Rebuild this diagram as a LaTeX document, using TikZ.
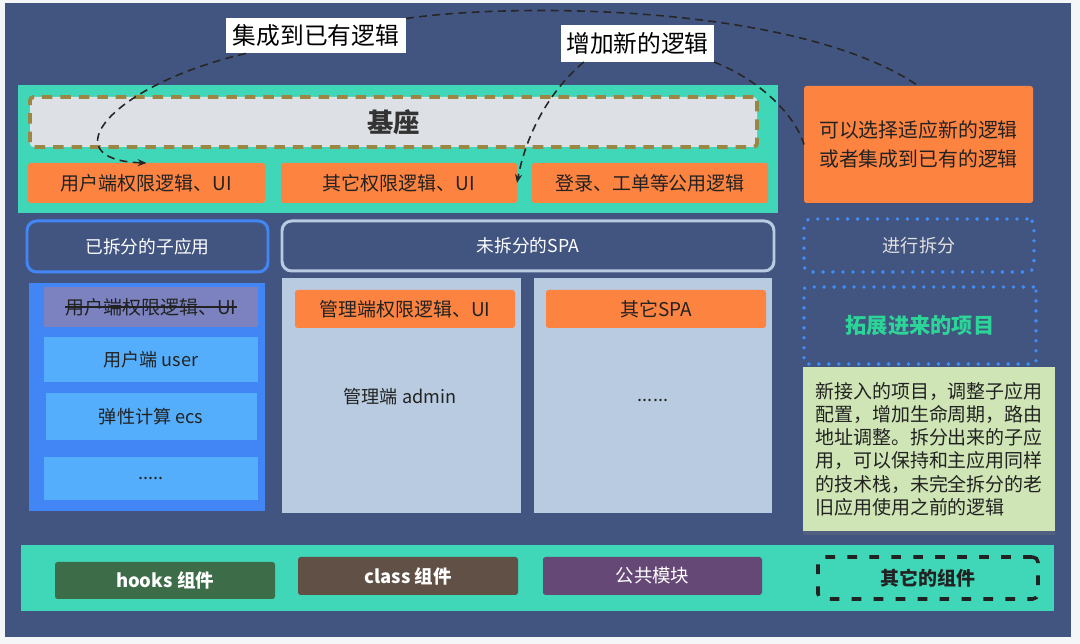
\documentclass[tikz,border=0pt]{standalone}
\usepackage{fontspec}
\setmainfont{Noto Sans CJK SC}
\usetikzlibrary{arrows.meta,shadows}
\definecolor{pagebg}{RGB}{245,246,248}
\definecolor{deepbg}{RGB}{66,85,128}
\definecolor{cteal}{RGB}{64,214,184}
\definecolor{extgreen}{RGB}{45,212,152}
\definecolor{corange}{RGB}{253,131,65}
\definecolor{baseg}{RGB}{221,224,229}
\definecolor{olivedash}{RGB}{156,134,68}
\definecolor{cblue}{RGB}{66,134,245}
\definecolor{dotblue}{RGB}{62,142,250}
\definecolor{lblue}{RGB}{85,174,251}
\definecolor{strikeb}{RGB}{124,130,192}
\definecolor{steel}{RGB}{184,203,224}
\definecolor{notegreen}{RGB}{207,229,181}
\definecolor{hookg}{RGB}{61,108,72}
\definecolor{classb}{RGB}{96,80,70}
\definecolor{commonp}{RGB}{102,72,118}
\definecolor{txt}{RGB}{34,34,34}
\begin{document}
\begin{tikzpicture}[x=0.02cm,y=-0.02cm,
        sz/.style 2 args={minimum width=#1*0.02cm,minimum height=#2*0.02cm},
        every node/.style={inner sep=0pt,outer sep=0pt,text=txt},
        panel/.style={rectangle,fill=cteal},
        logic/.style={rectangle,rounded corners=1.5pt,fill=corange,font=\fontsize{10.8}{13}\selectfont},
        plain/.style={rectangle,font=\fontsize{10.3}{13}\selectfont},
        tag/.style={rectangle,fill=white,font=\fontsize{13.5}{16}\selectfont,text=black},
        bluedots/.style={rectangle,draw=dotblue,line width=2.2pt,line cap=round,dash pattern=on 0pt off 5.67pt,
            font=\fontsize{10.3}{13}\selectfont},
        comp/.style={rectangle,rounded corners=1.5pt,text=white,font=\fontsize{10.5}{13}\selectfont},
        link/.style={draw=black!85,line width=0.9pt,dash pattern=on 4.5pt off 3pt},
        tip/.style={-{Stealth[length=5pt,width=4pt]}}]
    % Backdrop
    \fill[pagebg] (0,0) rectangle (1080,644);
    \fill[deepbg] (5,3) rectangle (1071,637);
    \useasboundingbox (0,0) rectangle (1080,644);
    % Top panel
    \node[panel,sz={760}{128}] (tp) at (398,149) {};
    \node[rectangle,sz={727}{50},fill=baseg,draw=olivedash,line width=2.2pt,dash pattern=on 6pt off 4.5pt,
        rounded corners=2pt,font=\bfseries\fontsize{15}{18}\selectfont,text=black!80] (jz) at (393.5,122) {基座};
    \node[logic,sz={237}{40}] (ub) at (146.5,183) {用户端权限逻辑、UI};
    \node[logic,sz={236}{40}] (ob) at (399,183) {其它权限逻辑、UI};
    \node[logic,sz={236}{40}] (lb) at (650,183) {登录、工单等公用逻辑};
    \node[logic,sz={229}{117},font=\fontsize{11.3}{16}\selectfont,align=center] (pick) at (918.5,144.5)
        {可以选择适应新的逻辑\\或者集成到已有的逻辑};
    % Labels on the links
    \node[tag,sz={180}{35}] (l1) at (316,36) {集成到已有逻辑};
    \node[tag,sz={153}{37}] (l2) at (637.5,43.5) {增加新的逻辑};
    % Second row
    \node[rectangle,sz={241}{51},fill=deepbg,draw=cblue,line width=1.7pt,rounded corners=5.5pt,
        text=white,font=\fontsize{10.1}{13}\selectfont] (sp) at (147.5,246.5) {已拆分的子应用};
    \node[rectangle,sz={492}{50},fill=deepbg,draw=steel,line width=1.7pt,rounded corners=5.5pt,
        text=white,font=\fontsize{10.1}{13}\selectfont] (us) at (528,246) {未拆分的SPA};
    \node[bluedots,sz={230}{53},rounded corners=4pt,text=white!88!black] (split) at (919,245.5) {进行拆分};
    \node[bluedots,sz={232}{77},rounded corners=1.5pt,text=extgreen,font=\bfseries\fontsize{12.1}{15}\selectfont]
        (ext) at (920,325.5) {拓展进来的项目};
    \node[rectangle,sz={252}{164},fill=notegreen,align=left,font=\fontsize{10.8}{13.2}\selectfont,
        drop shadow={shadow xshift=0pt,shadow yshift=-2pt,opacity=0.25}] (nt) at (929,449)
        {新接入的项目，调整子应用\\配置，增加生命周期，路由\\地址调整。拆分出来的子应\\用，可以保持和主应用同样\\的技术栈，未完全拆分的老\\旧应用使用之前的逻辑};
    % Split sub apps
    \node[rectangle,sz={236}{228},fill=cblue] (lp) at (147,397) {};
    \node[rectangle,sz={214}{40},fill=strikeb] (st) at (151,307) {};
    \node[font=\fontsize{10.8}{13}\selectfont] (stt) at (st) {用户端权限逻辑、UI};
    \draw[txt,line width=0.6pt] (stt.west) -- (stt.east);
    \node[plain,sz={214}{45},fill=lblue] (uu) at (151,359.5) {用户端 user};
    \node[plain,sz={211}{47},fill=lblue] (ecs) at (151,416.5) {弹性计算 ecs};
    \node[plain,sz={214}{43},fill=lblue] (more) at (151,478.5) {.....};
    % SPA not yet split
    \node[rectangle,sz={239}{235},fill=steel] (mp) at (401.5,395.5) {};
    \node[logic,sz={220}{38}] (ma) at (405,309) {管理端权限逻辑、UI};
    \node[plain] (adm) at (400,397) {管理端 admin};
    \node[rectangle,sz={238}{235},fill=steel] (op) at (653,395.5) {};
    \node[logic,sz={220}{38}] (osp) at (656,309) {其它SPA};
    \node[plain] (odots) at (653,400) {......};
    % Bottom panel
    \node[panel,sz={1033}{66}] (bp) at (537.5,578) {};
    \node[comp,sz={220}{37},fill=hookg,font=\bfseries\fontsize{10.5}{13}\selectfont] (hk) at (165,580.5) {hooks 组件};
    \node[comp,sz={220}{38},fill=classb,font=\bfseries\fontsize{10.5}{13}\selectfont] (cl) at (408,576) {class 组件};
    \node[comp,sz={219}{38},fill=commonp] (pm) at (652.5,576) {公共模块};
    \node[rectangle,sz={220}{42},draw=txt,line width=2pt,dash pattern=on 5.5pt off 7pt,rounded corners=3pt,
        font=\bfseries\fontsize{10.8}{13}\selectfont] (oc) at (928,578) {其它的组件};
    % Links
    \draw[link] (l1.north east) .. controls (520,2) and (800,5) .. (pick.north);
    \draw[link,tip] (l1.194) .. controls (110,85) and (50,160) .. (ub.north);
    \draw[link,tip] (l2.199) .. controls (545,95) and (525,140) .. (ob.east);
    \draw[link] (l2.south east) .. controls (760,80) and (795,115) .. (pick.west);
\end{tikzpicture}
\end{document}
